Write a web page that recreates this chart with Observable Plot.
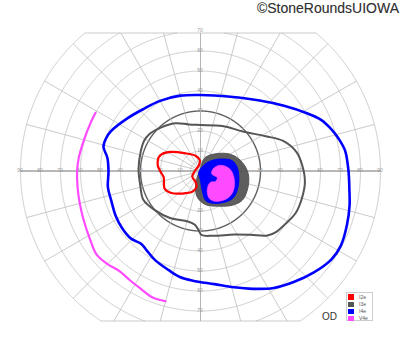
<!DOCTYPE html>
<html><head><meta charset="utf-8">
<script src="https://cdn.jsdelivr.net/npm/d3@7"></script>
<script src="https://cdn.jsdelivr.net/npm/@observablehq/plot@0.6"></script>
<style>
html,body{margin:0;padding:0;background:#fff;}
#wrap{position:relative;width:400px;height:352px;font-family:"Liberation Sans",Arial,sans-serif;overflow:hidden;}
#credit{position:absolute;right:1px;top:1px;font-size:14px;line-height:14px;color:#333;text-shadow:0 0 0.6px #bbb;white-space:nowrap;}
#eye{position:absolute;left:322px;top:312px;font-size:10px;line-height:10px;color:#333;}
#legend{position:absolute;left:346px;top:292px;width:27px;height:29px;border:1px solid #ccc;background:#fff;box-sizing:border-box;padding:0.5px 0 0 1px;}
.row{display:flex;align-items:center;height:7.2px;}
.sw{width:5.5px;height:5.5px;margin-right:5.5px;flex:none;}
.lb{font-size:5px;line-height:5px;color:#555;}
</style></head><body>
<div id="wrap"><div id="chart"></div><div id="credit">©StoneRoundsUIOWA</div><div id="eye">OD</div><div id="legend"></div></div>
<script>
// ---- data: [meridian (deg), eccentricity (deg)] ----
const seriesNames = ["I2e", "I3e", "I4e", "V4e"];
const seriesColors = ["#ff0000", "#555555", "#0000ff", "#ff4aff"];

const isopterI2e = [[162,22],[156,21],[147,17.5],[132,12],[108,8],[93,5.3],[105,3],[185,3],[215,5],[245,6],[256,8],[249,11],[231,14.5],[216,18.5],[206,20],[196,19],[189,18.7],[181,20],[173,21.5],[166,22]];
const isopterI3e = [[3,51],[11,49],[20,44],[28,37],[43,29],[64,25],[90,23],[104,24],[118,27],[133,29.5],[144,31.5],[152,32],[161,31.5],[178,31],[194,31],[207,32],[221,30],[237,28],[256,26],[264,27],[268,29.5],[271,32],[281,33],[298,36],[308,40.5],[316,46.5],[321,48.5],[328,50],[336,52],[345,52.5],[354,52.5]];
const isopterI4e = [[0,74],[8,73],[13,71],[18,68.5],[23,65.5],[28,61],[38,53],[50,46],[68,40],[90,38],[105,39],[120,40.5],[132,42],[144,45],[156,49],[161,50],[166,50],[172,47],[180,46],[190,47],[198,47],[208,48],[216,48.5],[224,48.5],[231,47],[236,48],[243,50],[252,52],[259,54],[266,55],[277,57],[286,60.5],[294,64.5],[302,69],[310,72.5],[318,76],[326,79],[332,79.5],[340,78],[347,76.5],[353,75]];
const isopterV4e = [[151,60],[157,60],[165,60.3],[173.5,61.2],[180,61.7],[187.5,62],[195,62.5],[203,63.4],[212,65],[219,66.7],[225,65.8],[231,64.4],[237,65],[243,66],[249,67.6],[255,67.4]];
const scotomaI3e = [[79,4.5],[70,7.3],[49,11.4],[31,16.6],[18,20],[5,22.6],[353,24.3],[337,25.3],[325,25.5],[313,23.4],[297.5,19.8],[278.5,17],[263,13.2],[253,8.5],[242,3.5],[90,1.1]];
const scotomaI4e = [[215,1],[55,4.4],[42,7.9],[29,12.4],[18,16.7],[6,18.4],[351,19.4],[332,20.8],[319,21.1],[304,19.2],[290,17.1],[280,15],[275,9.8],[270,4.8]];
const scotomaV4e = [[10,6.4],[17,9.6],[10,13],[0,15.5],[344,17.7],[329,19.2],[319,19.4],[308,18.6],[296,16.9],[288,14.6],[287.5,11.1],[298,8.2],[312,7.5],[326,9.1],[338,9],[341,7],[346,5.7]];

const ringValues = [5,10,20,30,40,50,60,70,80,90];
const meridianValues = d3.range(0, 360, 15);
const hLabels = [10,20,30,40,50,60,70,80,90];
const vLabels = [10,20,30,40,50,60,70];
const fieldTop = 69, fieldBottom = -75, fieldOuter = 90;

// ---- helpers ----
const rad = d => d * Math.PI / 180;
const toXY = ([m, e]) => ({x: e * Math.cos(rad(m)), y: e * Math.sin(rad(m))});

const ringPts = [];
for (const r of ringValues) {
  for (let a = 0; a <= 360.001; a += 0.2) {
    const y = r * Math.sin(rad(a));
    ringPts.push({r, x: r * Math.cos(rad(a)), y: (y > fieldTop || y < fieldBottom) ? NaN : y});
  }
}
const spokes = meridianValues.map(m => {
  const s = Math.sin(rad(m));
  let r = fieldOuter;
  if (s > 1e-6) r = Math.min(r, fieldTop / s);
  if (s < -1e-6) r = Math.min(r, fieldBottom / s);
  return {x2: r * Math.cos(rad(m)), y2: r * Math.sin(rad(m))};
});
const chordTop = Math.sqrt(fieldOuter ** 2 - fieldTop ** 2);
const chordBot = Math.sqrt(fieldOuter ** 2 - fieldBottom ** 2);
const chords = [
  {x1: -chordTop, x2: chordTop, y: fieldTop},
  {x1: -chordBot, x2: chordBot, y: fieldBottom}
];
const labelPts = [
  ...hLabels.map(r => ({x: -r, y: 0, t: String(r), dy: 0})),
  ...hLabels.map(r => ({x: r, y: 0, t: String(r), dy: 0})),
  ...vLabels.map(r => ({x: 0, y: r, t: String(r), dy: 2})),
  ...vLabels.map(r => ({x: 0, y: -r, t: String(r), dy: 2}))
];

const grid = "#bdbdbd";
const font = "Liberation Sans, Arial, sans-serif";

const chart = Plot.plot({
  width: 400,
  height: 352,
  margin: 0,
  x: {domain: [-100, 100], axis: null},
  y: {domain: [-90.75, 85.25], axis: null},
  style: {background: "white"},
  marks: [
    Plot.line(ringPts.filter(d => d.r !== 30), {x: "x", y: "y", z: "r", stroke: grid, strokeWidth: 0.8}),
    Plot.line(ringPts.filter(d => d.r === 30), {x: "x", y: "y", stroke: "#606060", strokeWidth: 1.4}),
    Plot.link(spokes, {x1: 0, y1: 0, x2: "x2", y2: "y2", stroke: grid, strokeWidth: 0.8}),
    Plot.link(chords, {x1: "x1", x2: "x2", y1: "y", y2: "y", stroke: grid, strokeWidth: 0.8}),
    Plot.link([{a: 1}], {x1: -fieldOuter, x2: fieldOuter, y1: 0, y2: 0, stroke: "#aaaaaa", strokeWidth: 1.4}),
    Plot.link([{a: 1}], {x1: 0, x2: 0, y1: fieldBottom, y2: fieldTop, stroke: "#b5b5b5", strokeWidth: 1}),
    Plot.text(labelPts, {x: "x", y: "y", text: "t", dy: "dy", fontSize: 5, fill: "#999", fontFamily: font}),
    Plot.line(scotomaI3e.map(toXY), {x: "x", y: "y", curve: "catmull-rom-closed", fill: seriesColors[1], stroke: seriesColors[1], strokeWidth: 1, fillOpacity: 0.95}),
    Plot.line(scotomaI4e.map(toXY), {x: "x", y: "y", curve: "catmull-rom-closed", fill: seriesColors[2], stroke: seriesColors[2], strokeWidth: 1}),
    Plot.line(scotomaV4e.map(toXY), {x: "x", y: "y", curve: "catmull-rom-closed", fill: seriesColors[3], stroke: seriesColors[3], strokeWidth: 0.5}),
    Plot.line(isopterI3e.map(toXY), {x: "x", y: "y", curve: "catmull-rom-closed", stroke: seriesColors[1], strokeWidth: 2}),
    Plot.line(isopterI4e.map(toXY), {x: "x", y: "y", curve: "catmull-rom-closed", stroke: seriesColors[2], strokeWidth: 2.6}),
    Plot.line(isopterV4e.map(toXY), {x: "x", y: "y", curve: "catmull-rom", stroke: seriesColors[3], strokeWidth: 2.2}),
    Plot.line(isopterI2e.map(toXY), {x: "x", y: "y", curve: "catmull-rom-closed", stroke: seriesColors[0], strokeWidth: 2.2})
  ]
});
document.getElementById("chart").appendChild(chart);

const legend = document.getElementById("legend");
seriesNames.forEach((name, i) => {
  const row = document.createElement("div");
  row.className = "row";
  const sw = document.createElement("div");
  sw.className = "sw";
  sw.style.background = seriesColors[i];
  const lb = document.createElement("div");
  lb.className = "lb";
  lb.textContent = name;
  row.appendChild(sw); row.appendChild(lb);
  legend.appendChild(row);
});
</script>
</body></html>
